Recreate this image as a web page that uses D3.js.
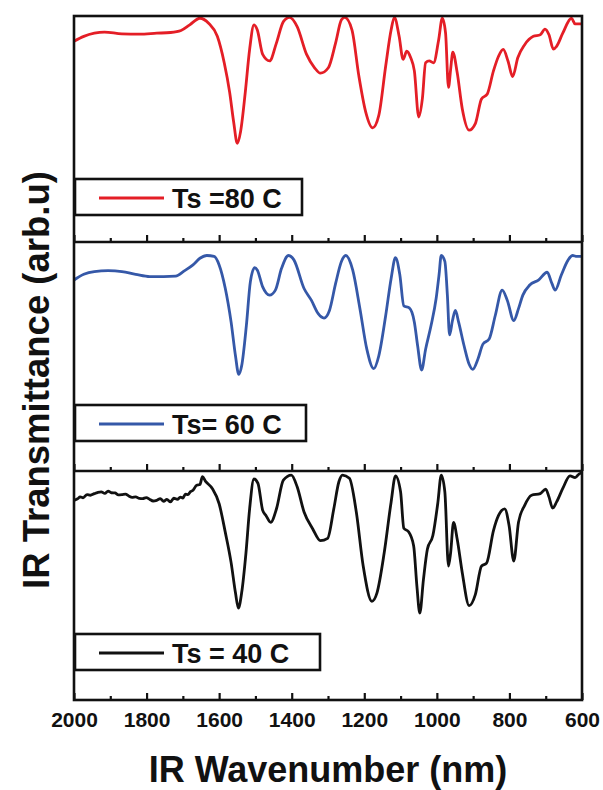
<!doctype html>
<html lang="en-US">
<head>
  <meta charset="utf-8">
  <title>IR Transmittance</title>
  <script src="https://cdn.jsdelivr.net/npm/d3@7"></script>
  <style>
    html, body { margin: 0; padding: 0; background: #fff; }
    svg { display: block; }
    text { font-family: "Liberation Sans", Arial, sans-serif; font-weight: bold; fill: #111; }
  </style>
</head>
<body>
<svg id="chart" width="603" height="790"></svg>
<script>
// tick labels on the wavenumber axis
var majorTicks = [2000, 1800, 1600, 1400, 1200, 1000, 800, 600];
var minorTicks = [1900, 1700, 1500, 1300, 1100, 900, 700];

// Ts = 80 C (top, red)
var wn80 = [2000,1973,1944,1916,1868,1820,1772,1734,1705,1681,1653,1629,1605,1586,1571,1560,1550,1541,1528,1516,
  1504,1495,1480,1461,1442,1423,1406,1385,1359,1337,1321,1299,1279,1263,1254,1234,1215,1196,1177,1160,
  1141,1126,1117,1104,1093,1083,1072,1062,1050,1040,1031,1021,1009,995,985,976,968,962,956,944,
  930,911,894,877,861,844,830,817,804,791,777,758,734,715,702,691,679,670,653,629,619,605,600];
var t80 = [88.8,91.0,92.4,92.9,92.1,92.0,92.4,92.7,93.6,96.1,99.0,96.8,91.0,79.3,66.2,53.1,43.7,48.8,66.2,85.2,
  96.1,93.9,83.0,80.1,88.1,97.5,99.4,95.3,83.0,77.1,74.7,77.1,88.1,98.3,99.4,93.9,73.5,57.5,50.5,56.0,
  77.9,93.9,99.4,91.0,80.8,84.4,81.5,75.7,55.3,63.3,79.3,80.1,79.3,89.5,99.0,92.4,68.4,76.4,84.0,75.0,
  59.0,49.5,52.4,63.3,65.5,75.7,82.2,85.2,80.1,73.2,81.5,87.3,91.0,91.7,94.2,91.7,85.4,86.6,92.4,99.0,96.5,96.5,96.5];

// Ts = 60 C (middle, blue)
var wn60 = [2000,1973,1944,1906,1868,1830,1791,1753,1720,1696,1672,1653,1634,1614,1600,1583,1567,1555,1546,1538,
  1525,1514,1502,1495,1480,1461,1445,1428,1409,1394,1366,1346,1327,1311,1296,1279,1263,1251,1232,1212,
  1193,1174,1160,1141,1126,1114,1102,1091,1076,1062,1053,1042,1031,1016,1002,994,988,978,971,965,
  957,949,940,925,911,901,887,873,856,839,820,806,788,775,763,744,720,696,683,674,657,638,626,614,600];
var t60 = [83.4,85.9,87.1,87.5,87.1,85.9,84.9,84.9,85.1,87.4,90.0,92.9,94.1,93.7,90.0,79.7,65.0,50.3,42.2,45.9,
  63.5,82.6,88.8,87.8,80.4,76.8,79.0,88.5,94.1,92.2,79.7,74.6,68.7,66.8,70.1,81.9,91.5,94.1,87.8,70.9,
  53.2,44.7,50.3,67.9,84.1,93.2,85.6,72.1,71.2,65.0,54.7,44.1,53.2,63.5,75.3,85.6,94.1,91.5,76.8,59.4,
  65.7,70.1,65.0,54.7,46.6,44.4,48.8,55.4,57.6,67.9,79.0,74.6,65.7,70.9,76.8,81.2,83.4,86.8,81.9,79.0,85.6,92.2,94.1,93.7,93.7];

// Ts = 40 C (bottom, black) - the left part is noisy in the original
var wn40 = [2000,1990,1983,1975,1964,1955,1944,1935,1925,1915,1906,1897,1887,1878,1868,1858,1849,1840,1830,1820,
  1811,1801,1791,1782,1772,1762,1753,1744,1734,1725,1715,1707,1700,1693,1686,1679,1672,1662,1653,1646,
  1638,1619,1600,1583,1567,1555,1547,1538,1526,1516,1504,1493,1480,1471,1458,1442,1423,1401,1385,1366,
  1342,1321,1301,1284,1270,1260,1241,1222,1203,1179,1165,1145,1126,1114,1100,1091,1078,1064,1055,1047,
  1037,1026,1011,997,988,978,968,962,954,944,930,911,894,877,863,844,830,813,801,788,
  775,758,739,715,700,691,681,670,653,633,619,605,600];
var t40 = [87.2,87.9,88.7,88.3,89.7,89.4,90.1,90.6,90.9,90.2,91.2,90.5,90.4,89.6,89.7,89.9,89.1,88.5,88.7,88.0,
  87.9,88.4,87.6,86.9,87.2,87.9,86.8,87.6,86.5,88.1,87.6,88.6,88.2,89.9,89.7,91.0,91.6,93.8,94.1,97.5,
  95.6,92.4,85.7,73.2,60.0,46.8,40.1,46.8,64.4,83.5,96.5,94.6,82.8,80.6,77.6,83.5,96.0,98.2,93.1,82.1,
  74.7,69.6,70.6,83.5,95.3,98.2,96.8,82.1,58.5,43.1,46.8,64.4,86.5,97.9,90.9,75.0,73.5,67.4,49.7,37.9,
  52.6,65.9,71.8,86.5,98.2,90.9,58.5,64.4,77.6,70.3,55.6,41.2,46.0,58.5,59.8,74.0,80.6,83.5,76.2,60.7,
  77.6,85.0,89.4,90.1,92.1,88.7,83.8,86.5,92.4,97.9,97.1,99.0,99.0];

var labels = ["Ts =80 C", "Ts= 60 C", "Ts = 40 C"];
var colors = ["#e41e26", "#3558a8", "#111111"];

var svg = d3.select("#chart");
var left = 74, right = 582;
var panels = [[16, 242], [242, 471], [471, 700]];
var series = [[wn80, t80], [wn60, t60], [wn40, t40]];
var legendW = [227, 231, 245];

var x = d3.scaleLinear().domain([2000, 600]).range([left, right]);

panels.forEach(function(p, i) {
  var y = d3.scaleLinear().domain([0, 100]).range([p[1], p[0]]);
  var pts = series[i][0].map(function(w, k) { return [w, series[i][1][k]]; });

  var line = d3.line()
    .x(function(d) { return x(d[0]); })
    .y(function(d) { return y(d[1]); })
    .curve(d3.curveMonotoneX);

  svg.append("path")
    .datum(pts)
    .attr("d", line)
    .attr("fill", "none")
    .attr("stroke", colors[i])
    .attr("stroke-width", 2.8)
    .attr("stroke-linejoin", "round");

  // inward ticks along the bottom of each panel
  var major = d3.axisBottom(x).tickValues(majorTicks).tickSize(-7).tickPadding(12).tickFormat(d3.format("d"));
  var minor = d3.axisBottom(x).tickValues(minorTicks).tickSize(-4).tickFormat("");
  if (i < 2) major.tickFormat("");

  var gMaj = svg.append("g").attr("transform", "translate(0," + p[1] + ")").call(major);
  var gMin = svg.append("g").attr("transform", "translate(0," + p[1] + ")").call(minor);
  [gMaj, gMin].forEach(function(g) {
    g.select(".domain").remove();
    g.selectAll(".tick line").attr("stroke", "#111").attr("stroke-width", 2.2);
  });
  gMaj.attr("font-family", null).attr("font-size", null);
  gMaj.selectAll(".tick text")
    .attr("font-size", 21)
    .attr("fill", "#111");

  // legend box
  var lg = svg.append("g").attr("transform", "translate(" + (left + 1) + "," + (p[0] + 163) + ")");
  lg.append("rect")
    .attr("width", legendW[i]).attr("height", 36)
    .attr("fill", "#fff").attr("stroke", "#111").attr("stroke-width", 2.6);
  lg.append("line")
    .attr("x1", 24).attr("x2", 89).attr("y1", 19).attr("y2", 19)
    .attr("stroke", colors[i]).attr("stroke-width", 2.8);
  lg.append("text")
    .attr("x", 97).attr("y", 29)
    .attr("font-size", 27)
    .text(labels[i]);
});

// frame and panel separators
svg.append("rect")
  .attr("x", left).attr("y", 16)
  .attr("width", right - left).attr("height", 700 - 16)
  .attr("fill", "none").attr("stroke", "#111").attr("stroke-width", 2.6);
[242, 471].forEach(function(yy) {
  svg.append("line")
    .attr("x1", left).attr("x2", right).attr("y1", yy).attr("y2", yy)
    .attr("stroke", "#111").attr("stroke-width", 2.6);
});

// axis titles
svg.append("text")
  .attr("x", (left + right) / 2).attr("y", 782)
  .attr("text-anchor", "middle")
  .attr("font-size", 36)
  .text("IR Wavenumber (nm)");

svg.append("text")
  .attr("transform", "translate(49,380) rotate(-90)")
  .attr("text-anchor", "middle")
  .attr("font-size", 36.5)
  .text("IR Transmittance (arb.u)");
</script>
</body>
</html>
